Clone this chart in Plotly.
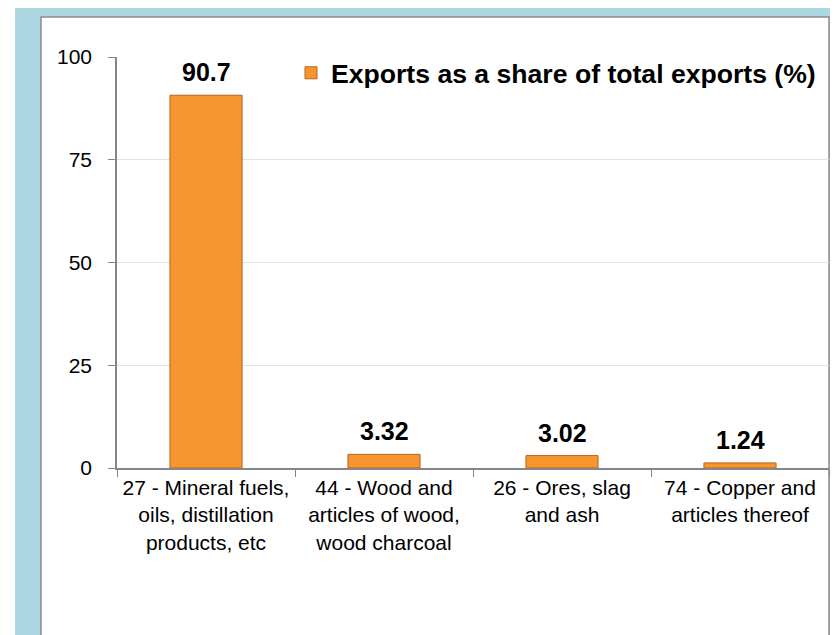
import plotly.graph_objects as go

categories = [
    "27 - Mineral fuels,<br>oils, distillation<br>products, etc",
    "44 - Wood and<br>articles of wood,<br>wood charcoal",
    "26 - Ores, slag<br>and ash",
    "74 - Copper and<br>articles thereof",
]
shares = [90.7, 3.32, 3.02, 1.24]
share_labels = ["90.7", "3.32", "3.02", "1.24"]
series_name = "Exports as a share of total exports (%)"
y_ticks = [0, 25, 50, 75, 100]

W, H = 838, 635
OFF = 8  # page body margin
L, R, T, B = 117 - OFF, 829 - OFF, 57 - OFF, 468 - OFF   # plot area, figure px
FONT = "Arial, Liberation Sans, sans-serif"


def px(x):
    # x given in screenshot pixels
    return (x - OFF - L) / (R - L)


def py(y):
    return (B - (y - OFF)) / (B - T)


fig = go.Figure()
fig.add_trace(go.Bar(
    x=categories,
    y=shares,
    name=series_name,
    marker=dict(color="#F7962F", line=dict(color="#B9621D", width=1)),
    showlegend=True,
))

# value labels above bars
for c, v, t in zip(categories, shares, share_labels):
    fig.add_annotation(x=c, y=v, text="<b>%s</b>" % t, showarrow=False,
                       yanchor="middle", yshift=23,
                       font=dict(family=FONT, size=25, color="black"))

# blue frame and white panel behind the chart
fig.add_shape(type="rect", xref="paper", yref="paper", layer="below",
              x0=px(15), x1=px(860), y0=py(660), y1=py(0),
              fillcolor="#add7e3", line=dict(width=0))
fig.add_shape(type="rect", xref="paper", yref="paper", layer="below",
              x0=px(41), x1=px(829), y0=py(660), y1=py(17),
              fillcolor="white", line=dict(color="#8c8c8c", width=1.5))

fig.update_layout(
    width=W, height=H,
    margin=dict(l=L, r=W - R, t=T, b=H - B),
    paper_bgcolor="white",
    plot_bgcolor="rgba(0,0,0,0)",
    bargap=0.595,
    font=dict(family=FONT, color="black"),
    legend=dict(x=px(291), y=py(73), xanchor="left", yanchor="middle",
                bgcolor="rgba(0,0,0,0)",
                font=dict(family=FONT, size=26.6, color="black", weight="bold")),
    xaxis=dict(showline=True, linecolor="#868686", linewidth=1.5,
               ticks="outside", tickcolor="#868686", ticklen=7,
               tickson="boundaries", showgrid=False,
               tickfont=dict(family=FONT, size=21, color="black")),
    yaxis=dict(range=[0, 100], tickvals=y_ticks, showline=True,
               linecolor="#868686", linewidth=1.5, ticks="outside",
               tickcolor="#868686", ticklen=7, gridcolor="#dbe5f1",
               gridwidth=1, zeroline=False, ticklabelstandoff=12,
               tickfont=dict(family=FONT, size=21, color="black")),
)

fig.write_html("out.html")
